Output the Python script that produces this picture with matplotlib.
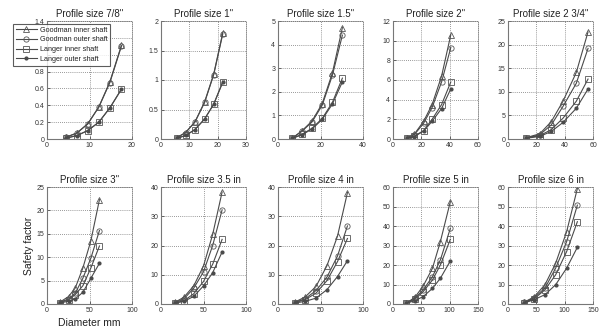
import matplotlib
matplotlib.use("Agg")
import matplotlib.pyplot as plt
from matplotlib.ticker import FormatStrFormatter

plt.rcParams['font.family'] = ['Liberation Sans', 'DejaVu Sans']

titles = ['Profile size 7/8"', 'Profile size 1"', 'Profile size 1.5"', 'Profile size 2"',
          'Profile size 2 3/4"', 'Profile size 3"', 'Profile size 3.5 in', 'Profile size 4 in',
          'Profile size 5 in', 'Profile size 6 in']

xmax = [20, 30, 40, 60, 60, 100, 100, 100, 150, 150]
xstep = [10, 10, 20, 20, 20, 50, 50, 50, 50, 50]
ymax = [1.4, 2, 5, 12, 25, 25, 40, 40, 60, 60]
ystep = [0.2, 0.5, 1, 2, 5, 5, 10, 10, 10, 10]

# shaft diameter (mm) per profile
diam = [
    [4.4, 7.0, 9.6, 12.2, 14.8, 17.5],
    [5.5, 8.7, 12.0, 15.4, 18.6, 21.8],
    [6.8, 11.3, 16.0, 20.8, 25.6, 30.3],
    [9.6, 15.1, 21.6, 27.6, 34.3, 40.8],
    [12.9, 22.4, 30.6, 38.8, 48.2, 56.5],
    [14.8, 25.4, 33.2, 42.2, 51.6, 61.7],
    [16.5, 26.9, 38.5, 50.0, 60.8, 71.9],
    [19.5, 31.9, 44.7, 57.6, 70.0, 81.7],
    [22.8, 38.6, 53.2, 69.6, 83.6, 101.2],
    [28.2, 45.9, 65.3, 84.1, 103.5, 122.4],
]

goodman_inner = [
    [0.02, 0.07, 0.18, 0.38, 0.68, 1.11],
    [0.02, 0.11, 0.29, 0.63, 1.10, 1.80],
    [0.04, 0.35, 0.76, 1.50, 2.80, 4.72],
    [0.10, 0.50, 1.80, 3.50, 6.40, 10.6],
    [0.3, 1.1, 3.7, 8.0, 14.1, 22.7],
    [0.35, 1.6, 3.4, 7.7, 13.5, 22.3],
    [0.6, 2.3, 6.2, 13.0, 23.8, 38.3],
    [0.6, 2.4, 6.0, 13.1, 23.2, 38.1],
    [0.3, 3.4, 9.2, 18.3, 32.0, 52.5],
    [0.9, 3.6, 9.9, 20.9, 37.1, 59.2],
]

goodman_outer = [
    [0.02, 0.07, 0.18, 0.38, 0.67, 1.10],
    [0.02, 0.11, 0.29, 0.62, 1.09, 1.78],
    [0.04, 0.33, 0.72, 1.43, 2.70, 4.40],
    [0.09, 0.45, 1.60, 3.20, 5.80, 9.3],
    [0.2, 0.9, 3.0, 6.9, 11.8, 19.2],
    [0.3, 1.1, 2.3, 5.5, 9.8, 15.7],
    [0.5, 1.7, 5.4, 11.0, 20.0, 32.2],
    [0.5, 1.8, 4.6, 9.2, 16.4, 26.7],
    [0.3, 2.9, 7.2, 14.0, 22.6, 38.8],
    [0.8, 3.1, 8.2, 18.4, 32.0, 50.7],
]

langer_inner = [
    [0.01, 0.04, 0.10, 0.20, 0.37, 0.59],
    [0.01, 0.06, 0.16, 0.34, 0.59, 0.97],
    [0.03, 0.20, 0.45, 0.87, 1.55, 2.58],
    [0.08, 0.30, 0.85, 2.00, 3.50, 5.8],
    [0.2, 0.7, 2.0, 4.4, 8.0, 12.7],
    [0.25, 0.9, 2.0, 3.9, 7.7, 12.4],
    [0.4, 1.1, 3.5, 7.7, 13.6, 22.1],
    [0.4, 1.5, 3.7, 8.0, 14.5, 22.4],
    [0.3, 2.4, 6.3, 12.3, 20.0, 33.2],
    [0.6, 2.6, 7.3, 15.0, 26.9, 42.2],
]

langer_outer = [
    [0.01, 0.04, 0.10, 0.20, 0.37, 0.59],
    [0.01, 0.06, 0.16, 0.34, 0.59, 0.96],
    [0.03, 0.18, 0.42, 0.83, 1.48, 2.42],
    [0.07, 0.25, 0.80, 1.80, 3.10, 5.1],
    [0.15, 0.55, 1.6, 3.5, 6.5, 10.6],
    [0.2, 0.6, 1.1, 2.5, 5.5, 8.7],
    [0.3, 0.9, 2.6, 6.2, 10.7, 17.8],
    [0.3, 0.9, 2.0, 4.9, 9.4, 14.8],
    [0.3, 1.7, 3.8, 8.0, 13.2, 22.1],
    [0.5, 2.2, 4.8, 9.9, 18.4, 29.1],
]

series = [("Goodman inner shaft", goodman_inner, "^"),
          ("Goodman outer shaft", goodman_outer, "o"),
          ("Langer inner shaft", langer_inner, "s"),
          ("Langer outer shaft", langer_outer, ".")]

W, H = 601, 328
fig = plt.figure(figsize=(W / 100, H / 100), dpi=100)

lefts = [47, 161, 278, 393, 508]
rows = [(21, 139), (187, 304)]
axw = 85
lc = "#4a4a4a"
gc = "#777777"

axes = []
for i in range(10):
    r, c = divmod(i, 5)
    top, bot = rows[r]
    ax = fig.add_axes([lefts[c] / W, 1 - bot / H, axw / W, (bot - top) / H])
    axes.append(ax)
    for name, vals, mk in series:
        if mk == ".":
            ax.plot(diam[i], vals[i], color=lc, lw=0.8, marker=mk, ms=4, mfc=lc, mec=lc, label=name)
        else:
            ax.plot(diam[i], vals[i], color=lc, lw=0.8, marker=mk, ms=3.8, mfc="none", mec="#555555",
                    mew=0.6, label=name)
    ax.set_xlim(0, xmax[i])
    ax.set_ylim(0, ymax[i])
    nx = int(round(xmax[i] / xstep[i]))
    ny = int(round(ymax[i] / ystep[i]))
    ax.set_xticks([k * xstep[i] for k in range(nx + 1)])
    ax.set_yticks([k * ystep[i] for k in range(ny + 1)])
    ax.yaxis.set_major_formatter(FormatStrFormatter('%g'))
    ax.xaxis.set_major_formatter(FormatStrFormatter('%g'))
    ax.tick_params(direction="in", length=2, width=0.5, labelsize=5, colors="#333333", pad=2)
    ax.grid(True, linestyle=(0, (1, 1.5)), color=gc, lw=0.6)
    for s in ["top", "right"]:
        ax.spines[s].set_linestyle((0, (1, 1.5)))
        ax.spines[s].set_color(gc)
        ax.spines[s].set_linewidth(0.6)
    for s in ["left", "bottom"]:
        ax.spines[s].set_color("#777777")
        ax.spines[s].set_linewidth(0.8)
    ax.set_title(titles[i], fontsize=7, pad=3, color="#222222")

axes[5].set_ylabel("Safety factor", fontsize=7.5, color="#222222", labelpad=2)
axes[5].set_xlabel("Diameter mm", fontsize=7.5, color="#222222", labelpad=3)

# tick labels hidden under the legend box in the first panel
fig.canvas.draw()
for lab in axes[0].get_yticklabels():
    if lab.get_text() in ("1", "1.2"):
        lab.set_visible(False)

leg = axes[0].legend(loc="upper left", bbox_to_anchor=(13 / W, 1 - 24 / H), bbox_transform=fig.transFigure,
                     fontsize=5.2, frameon=True, fancybox=False, handlelength=3.0, handletextpad=0.4,
                     borderpad=0.35, labelspacing=0.38, borderaxespad=0)
leg.get_frame().set_edgecolor("#333333")
leg.get_frame().set_linewidth(0.8)
for t in leg.get_texts():
    t.set_color("#222222")

fig.savefig("out.png", dpi=100)
